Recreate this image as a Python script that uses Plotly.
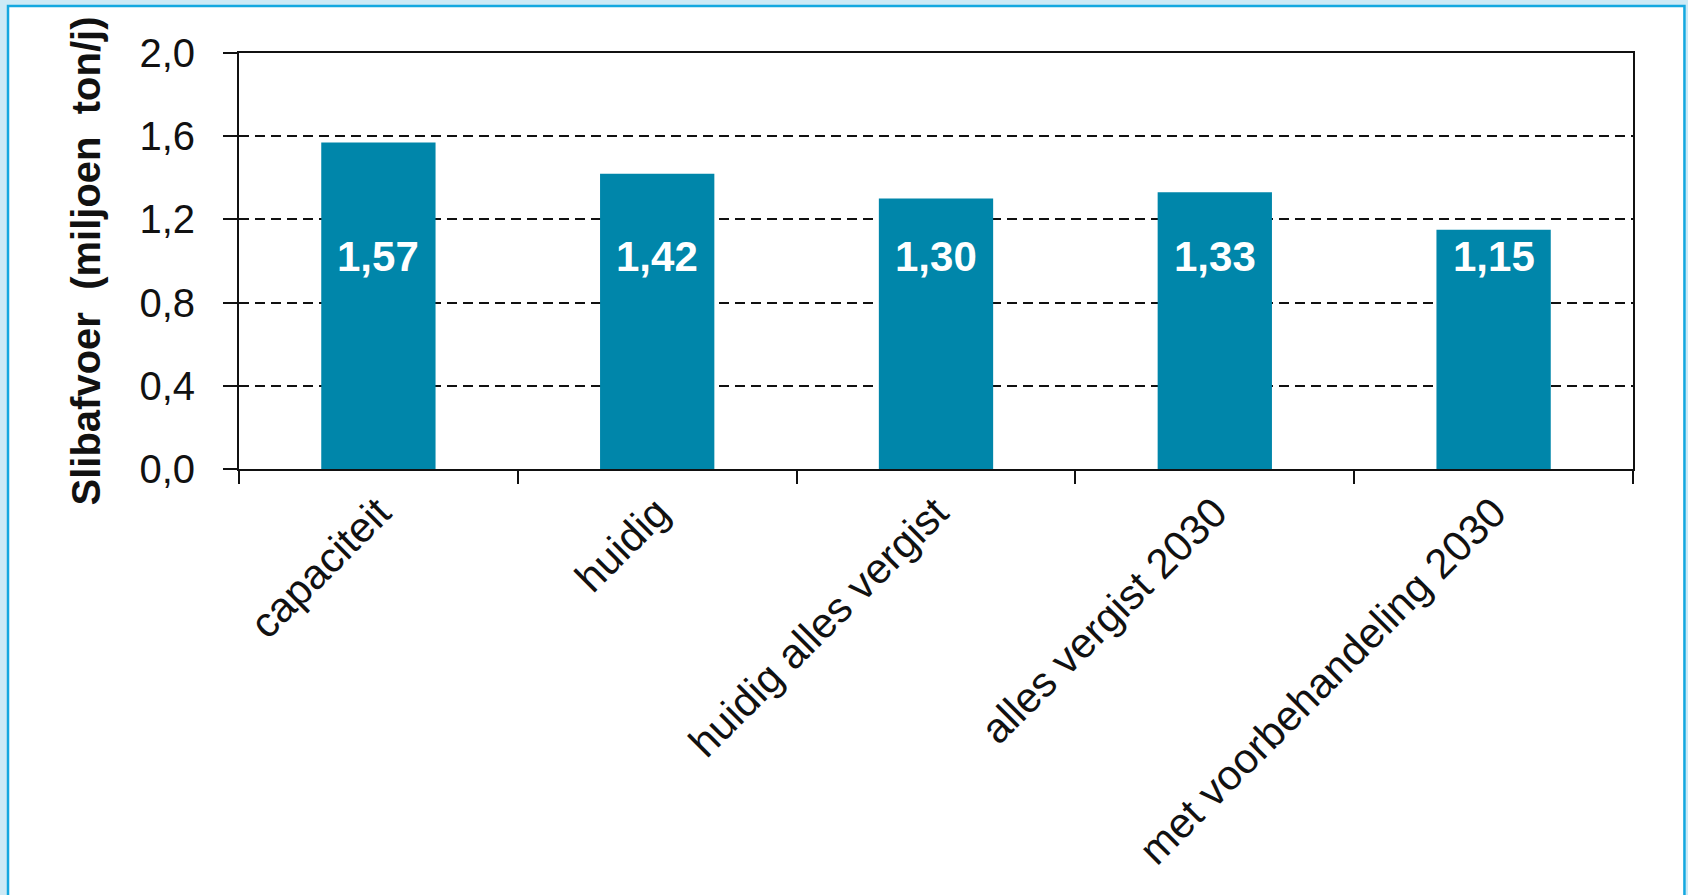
import plotly.graph_objects as go

categories = ["capaciteit", "huidig", "huidig alles vergist", "alles vergist 2030", "met voorbehandeling 2030"]
values = [1.57, 1.42, 1.30, 1.33, 1.15]
y_title = "Slibafvoer  (miljoen  ton/j)"
y_ticks = [0.0, 0.4, 0.8, 1.2, 1.6, 2.0]

FONT = "Liberation Sans, Arial, sans-serif"
BAR_COLOR = "#0086AA"
LABEL_Y = 1.02

fig = go.Figure()
fig.add_trace(go.Bar(
    x=categories, y=values,
    marker=dict(color=BAR_COLOR, line=dict(width=0)),
    hoverinfo="skip",
))

for c, v in zip(categories, values):
    fig.add_annotation(
        x=c, y=LABEL_Y, xref="x", yref="y",
        text=f"<b>{v:.2f}</b>".replace(".", ","),
        showarrow=False,
        font=dict(family=FONT, size=42, color="white"),
    )

# outer frame
fig.add_shape(
    type="rect", xref="paper", yref="paper",
    x0=-0.1657, x1=1.0369, y0=-1.05, y1=1.1130,
    fillcolor="white", line=dict(color="#14A8E0", width=2.5),
    layer="below",
)

fig.update_layout(
    width=1688, height=895,
    margin=dict(l=239, r=55, t=53, b=426, pad=0),
    paper_bgcolor="#CDEAF6",
    plot_bgcolor="white",
    separators=",.",
    bargap=0.59,
    showlegend=False,
    font=dict(family=FONT, color="#111111"),
)

fig.update_xaxes(
    type="category",
    showline=True, linecolor="#111111", linewidth=2, mirror=True,
    ticks="outside", tickson="boundaries", ticklen=13, tickwidth=2, tickcolor="#111111",
    tickangle=-45,
    tickfont=dict(family=FONT, size=42, color="#111111"),
    showgrid=False,
)

fig.update_yaxes(
    range=[0, 2.0],
    tickvals=y_ticks,
    tickformat=".1f",
    showline=True, linecolor="#111111", linewidth=2, mirror=True,
    ticks="outside", ticklen=14, tickwidth=2, tickcolor="#111111",
    ticklabelstandoff=20,
    tickfont=dict(family=FONT, size=40, color="#111111"),
    showgrid=True, gridcolor="#111111", gridwidth=2, griddash="10px,6px",
    zeroline=False,
    title=dict(text=f"<b>{y_title}</b>", font=dict(family=FONT, size=40, color="#111111"), standoff=26),
)

fig.write_html("out.html")
